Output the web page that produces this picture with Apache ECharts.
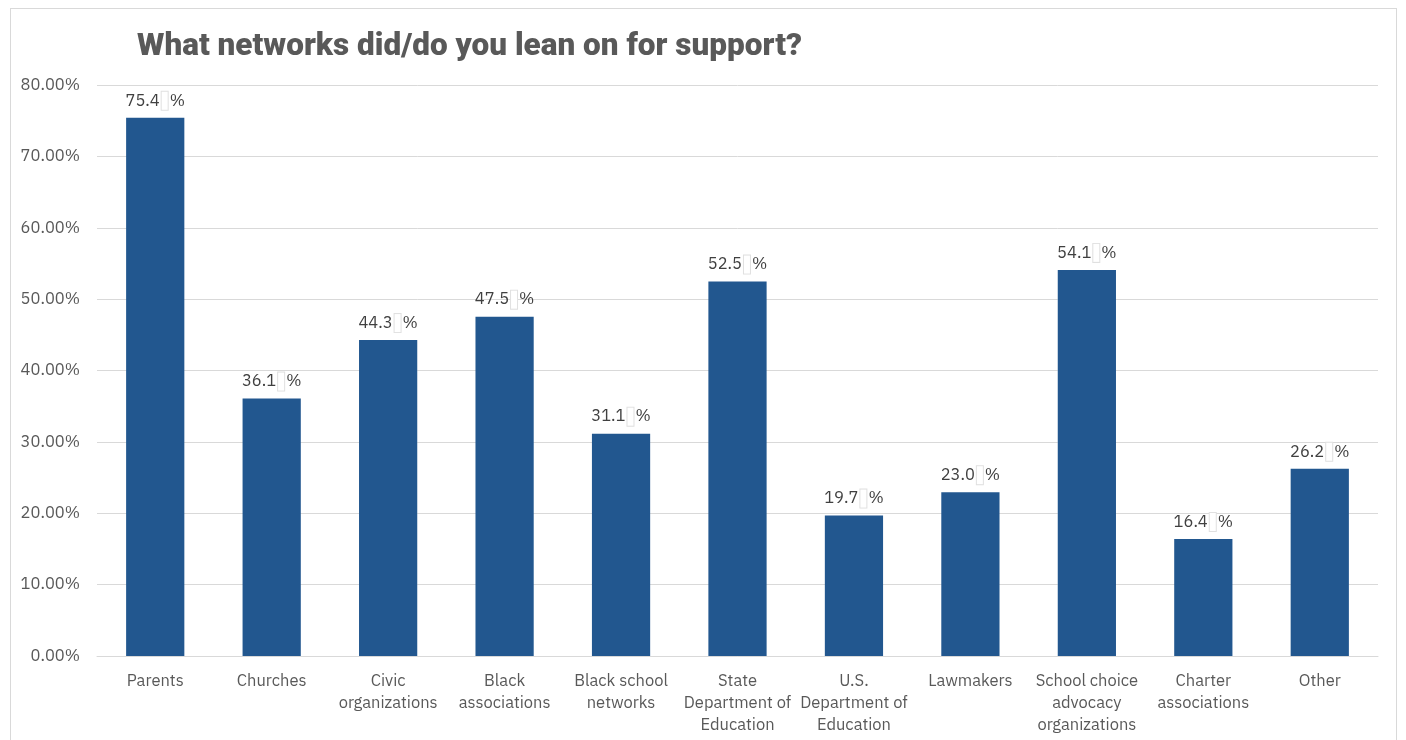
<!DOCTYPE html>
<html><head><meta charset="utf-8">
<script src="https://cdn.jsdelivr.net/npm/echarts@6/dist/echarts.min.js"></script>
<style>
html,body{margin:0;padding:0;background:#fff;}
#frame{position:absolute;left:10px;top:8px;width:1387px;height:760px;border:1px solid #d9d9d9;box-sizing:border-box;}
#c{position:absolute;left:0;top:0;width:1406px;height:740px;}
</style></head>
<body>
<div id="frame"></div>
<div id="c"></div>
<script>
const categories = ["Parents","Churches","Civic\norganizations","Black\nassociations","Black school\nnetworks","State\nDepartment of\nEducation","U.S.\nDepartment of\nEducation","Lawmakers","School choice\nadvocacy\norganizations","Charter\nassociations","Other"];
const values = [75.410, 36.066, 44.262, 47.541, 31.148, 52.459, 19.672, 22.951, 54.098, 16.393, 26.230];
const yTicks = {min: 0, max: 80, interval: 10};

const chart = echarts.init(document.getElementById('c'));
const font = "'IBM Plex Sans', 'Noto Sans', 'Open Sans', sans-serif";
chart.setOption({
  animation: false,
  title: {
    text: 'What networks did/do you lean on for support?',
    left: 132, top: 26,
    textStyle: {fontFamily: "'Liberation Sans Narrow', 'Roboto', sans-serif", fontWeight: 900, fontSize: 31.5, color: '#595959'}
  },
  grid: {left: 97, right: 28, top: 85, bottom: 84},
  xAxis: {
    type: 'category', data: categories,
    axisLine: {lineStyle: {color: '#d9d9d9', width: 1}},
    axisTick: {show: false},
    axisLabel: {interval: 0, color: '#595959', fontSize: 16.5, fontFamily: font, lineHeight: 22, margin: 14}
  },
  yAxis: {
    type: 'value', min: yTicks.min, max: yTicks.max, interval: yTicks.interval,
    axisLine: {show: false}, axisTick: {show: false},
    splitLine: {lineStyle: {color: '#d9d9d9', width: 1}},
    axisLabel: {color: '#595959', fontSize: 16.5, fontFamily: font, margin: 17,
      formatter: v => v.toFixed(2) + '%'}
  },
  series: [{
    type: 'bar', data: values, barWidth: '50%',
    itemStyle: {color: '#22578F'},
    label: {
      show: true, position: 'top', distance: 8,
      formatter: p => '{a|' + p.value.toFixed(1) + '}{g|}{b|}{g|}{a|%}',
      rich: {
        a: {color: '#404040', fontSize: 16.5, fontFamily: font},
        g: {width: 2, height: 10},
        b: {width: 6, height: 18, borderColor: '#e0e0e0', borderWidth: 1, backgroundColor: '#fff'}
      }
    }
  }]
});
</script>
</body></html>
